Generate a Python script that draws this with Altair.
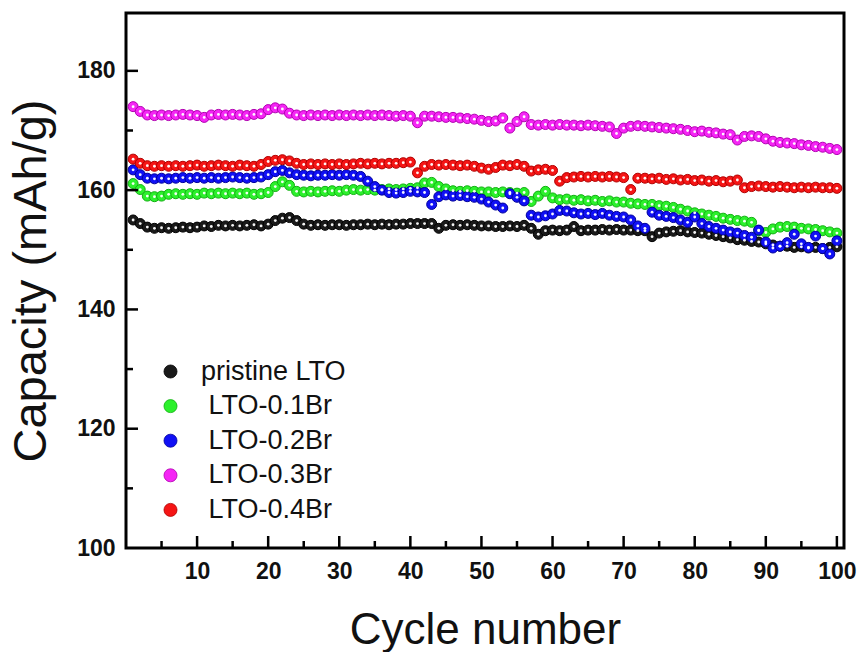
import altair as alt
import pandas as pd

cycles = list(range(1, 101))

series_names = ["pristine LTO", "LTO-0.1Br", "LTO-0.2Br", "LTO-0.3Br", "LTO-0.4Br"]
series_colors = ["#1a1a1a", "#2cf02c", "#1010f5", "#f525f5", "#f51515"]
series_strokes = ["#000000", "#12b012", "#00009a", "#b000b0", "#b00000"]

pristine = [155.0, 154.4, 153.8, 153.6, 153.7, 153.6, 153.7, 153.8, 153.7, 153.8,
            154.0, 153.9, 154.1, 154.0, 154.1, 154.0, 154.1, 154.2, 154.0, 154.3,
            154.9, 155.3, 155.4, 154.9, 154.3, 154.1, 154.2, 154.1, 154.2, 154.2,
            154.1, 154.2, 154.2, 154.3, 154.2, 154.3, 154.2, 154.3, 154.3, 154.4,
            154.4, 154.4, 154.4, 153.6, 154.1, 154.2, 154.1, 154.2, 154.1, 154.0,
            154.0, 153.9, 153.9, 154.0, 153.9, 154.1, 153.6, 152.6, 153.2, 153.3,
            153.2, 153.3, 153.9, 153.2, 153.3, 153.3, 153.4, 153.3, 153.4, 153.3,
            153.3, 153.2, 153.2, 152.2, 152.8, 153.0, 153.1, 153.2, 153.0, 152.9,
            152.8, 152.6, 152.4, 152.2, 152.0, 151.7, 151.6, 151.4, 151.3, 151.0,
            150.8, 150.6, 150.6, 150.4, 150.5, 150.3, 150.4, 150.2, 150.4, 150.5]

br01 = [161.1, 160.1, 159.0, 158.9, 159.0, 159.3, 159.4, 159.3, 159.4, 159.3,
        159.5, 159.4, 159.5, 159.4, 159.5, 159.4, 159.5, 159.3, 159.4, 159.6,
        160.6, 161.4, 160.8, 159.8, 159.7, 159.8, 159.7, 159.8, 159.9, 159.8,
        160.0, 160.1, 160.0, 160.1, 160.0, 160.1, 160.2, 160.1, 160.2, 160.3,
        160.4, 161.2, 161.3, 160.6, 160.2, 159.9, 159.8, 159.9, 159.8, 159.7,
        159.7, 159.6, 159.7, 159.6, 159.5, 159.6, 158.1, 159.0, 159.8, 158.7,
        158.4, 158.5, 158.3, 158.4, 158.2, 158.3, 158.1, 158.2, 158.0, 158.0,
        157.8, 157.7, 157.6, 157.6, 157.4, 157.3, 157.1, 156.8, 156.5, 156.2,
        156.0, 155.8, 155.6, 155.3, 155.1, 154.9, 154.8, 154.6, 153.2, 152.9,
        153.5, 153.8, 153.9, 153.8, 153.6, 153.5, 153.4, 153.2, 153.0, 152.8]

br02 = [163.4, 162.6, 162.0, 161.9, 162.0, 161.9, 162.0, 162.1, 162.0, 162.1,
        162.0, 162.1, 162.0, 162.1, 162.2, 162.1, 162.0, 162.1, 162.2, 162.6,
        163.1, 163.3, 162.9, 162.6, 162.5, 162.4, 162.5, 162.5, 162.6, 162.5,
        162.6, 162.5, 162.3, 161.5, 160.6, 160.0, 159.6, 159.5, 159.6, 159.8,
        159.7, 159.6, 157.6, 158.9, 159.2, 159.0, 159.1, 158.9, 158.8, 158.5,
        158.0, 157.5, 157.0, 159.4, 158.8, 158.2, 155.8, 155.5, 155.7, 156.0,
        156.6, 156.5, 156.2, 156.0, 156.1, 155.9, 156.1, 155.8, 155.6, 155.5,
        155.0, 154.0, 153.6, 156.3, 155.8, 155.6, 155.4, 155.0, 154.6, 155.5,
        154.4, 153.9, 153.6, 153.3, 153.0, 152.8, 152.4, 152.1, 153.3, 151.3,
        150.3, 150.6, 151.2, 152.6, 151.0, 150.4, 152.3, 150.2, 149.3, 151.5]

br03 = [174.0, 173.2, 172.6, 172.5, 172.6, 172.5, 172.6, 172.7, 172.6, 172.5,
        172.2, 172.6, 172.7, 172.6, 172.7, 172.6, 172.5, 172.7, 172.8, 173.5,
        173.8, 173.6, 172.9, 172.6, 172.5, 172.6, 172.5, 172.6, 172.5, 172.6,
        172.5, 172.6, 172.5, 172.6, 172.5, 172.6, 172.5, 172.4, 172.5, 172.4,
        171.3, 172.4, 172.4, 172.3, 172.2, 172.2, 172.1, 172.0, 171.9, 171.7,
        171.5, 171.6, 172.1, 170.4, 171.5, 172.3, 171.0, 170.9, 171.0, 170.9,
        171.0, 170.9, 170.9, 170.8, 170.9, 170.8, 170.7, 170.6, 169.5, 170.4,
        170.7, 170.8, 170.7, 170.6, 170.5, 170.4, 170.3, 170.2, 170.0, 169.8,
        169.9, 169.7, 169.6, 169.4, 169.3, 168.4, 169.0, 169.1, 169.0, 168.6,
        168.2, 168.0, 167.9, 167.8, 167.6, 167.5, 167.3, 167.2, 167.0, 166.8]

br04 = [165.2, 164.5, 164.1, 164.0, 164.1, 164.0, 164.1, 164.0, 164.1, 164.2,
        164.0, 164.1, 164.2, 164.1, 164.0, 164.2, 164.1, 164.0, 164.3, 164.8,
        165.0, 165.1, 164.9, 164.5, 164.3, 164.4, 164.3, 164.4, 164.3, 164.4,
        164.3, 164.4, 164.5, 164.4, 164.5, 164.4, 164.5, 164.5, 164.6, 164.7,
        162.9, 164.0, 164.3, 164.2, 164.3, 164.2, 164.1, 164.2, 164.0, 163.7,
        163.5, 163.8, 164.2, 164.1, 164.3, 164.0, 163.2, 163.4, 163.5, 163.3,
        161.5, 162.1, 162.2, 162.3, 162.2, 162.3, 162.2, 162.3, 162.2, 162.1,
        160.1, 162.0, 162.0, 161.9, 162.0, 161.8, 161.9, 161.7, 161.8, 161.6,
        161.7, 161.5, 161.6, 161.4, 161.5, 161.7, 160.4, 160.6, 160.7, 160.6,
        160.5, 160.6, 160.5, 160.4, 160.5, 160.4, 160.5, 160.4, 160.4, 160.3]

x_labels = [10, 20, 30, 40, 50, 60, 70, 80, 90, 100]
x_minor = [5, 15, 25, 35, 45, 55, 65, 75, 85, 95]
y_labels = [100, 120, 140, 160, 180]
y_major_ticks = [120, 140, 160, 180]
y_minor = [110, 130, 150, 170]

all_series = [pristine, br01, br02, br03, br04]
rows = []
for k, (name, vals) in enumerate(zip(series_names, all_series)):
    for c, v in zip(cycles, vals):
        rows.append({"cycle": c, "capacity": v, "series": name, "k": k})
df = pd.DataFrame(rows)

W, H = 718, 535
FONT = "Liberation Sans"

xscale = alt.Scale(domain=[0, 101], nice=False, zero=False)
yscale = alt.Scale(domain=[100, 189.7], nice=False, zero=False)

x_axis = alt.Axis(values=x_labels, ticks=False, domain=False, grid=False,
                  labelFont=FONT, labelFontSize=23, labelFontWeight="bold",
                  labelColor="#111", labelPadding=12,
                  title="Cycle number", titleFont=FONT, titleFontSize=44,
                  titleFontWeight="normal", titleColor="#111",
                  titleBaseline="alphabetic", titleY=95)
y_axis = alt.Axis(values=y_labels, ticks=False, domain=False, grid=False,
                  labelFont=FONT, labelFontSize=23, labelFontWeight="bold",
                  labelColor="#111", labelPadding=11,
                  title="Capacity (mAh/g)", titleFont=FONT, titleFontSize=47,
                  titleFontWeight="normal", titleColor="#111",
                  titleBaseline="alphabetic", titleX=-81)

legend = alt.Legend(orient="none", legendX=31, legendY=345, title=None,
                    symbolType="circle", symbolSize=170, symbolStrokeWidth=0.8,
                    labelFont=FONT, labelFontSize=27, labelColor="#111",
                    labelOffset=17, rowPadding=6.6, padding=0,
                    labelExpr="datum.label == 'pristine LTO' ? datum.label : '\\u200b\\u00a0' + datum.label")

base = alt.Chart(df)
circles = base.mark_point(filled=True, shape="circle", size=100, opacity=1,
                          strokeWidth=1).encode(
    x=alt.X("cycle:Q", scale=xscale, axis=x_axis),
    y=alt.Y("capacity:Q", scale=yscale, axis=y_axis),
    color=alt.Color("series:N", scale=alt.Scale(domain=series_names, range=series_colors),
                    legend=legend),
    stroke=alt.Stroke("series:N", scale=alt.Scale(domain=series_names, range=series_strokes),
                      legend=None),
    order=alt.Order("k:Q"),
)
dots = base.mark_circle(size=8, color="white", opacity=0.95).encode(
    x="cycle:Q", y="capacity:Q")

xmaj = alt.Chart(pd.DataFrame({"cycle": x_labels})).mark_rule(color="black", strokeWidth=2.5).encode(
    x="cycle:Q", y=alt.value(H), y2=alt.value(H - 12))
xmin = alt.Chart(pd.DataFrame({"cycle": x_minor})).mark_rule(color="black", strokeWidth=2.5).encode(
    x="cycle:Q", y=alt.value(H), y2=alt.value(H - 7))
ymaj = alt.Chart(pd.DataFrame({"capacity": y_major_ticks})).mark_rule(color="black", strokeWidth=2.5).encode(
    y="capacity:Q", x=alt.value(0), x2=alt.value(12))
ymin = alt.Chart(pd.DataFrame({"capacity": y_minor})).mark_rule(color="black", strokeWidth=2.5).encode(
    y="capacity:Q", x=alt.value(0), x2=alt.value(7))

chart = alt.layer(circles, dots, xmaj, xmin, ymaj, ymin).properties(
    width=W, height=H,
    autosize=alt.AutoSizeParams(type="none"),
    padding={"left": 126, "top": 13, "right": 19, "bottom": 104},
    background="white",
).configure_view(stroke="black", strokeWidth=3)

chart.save("out.html", embed_options={"renderer": "svg", "actions": False})
